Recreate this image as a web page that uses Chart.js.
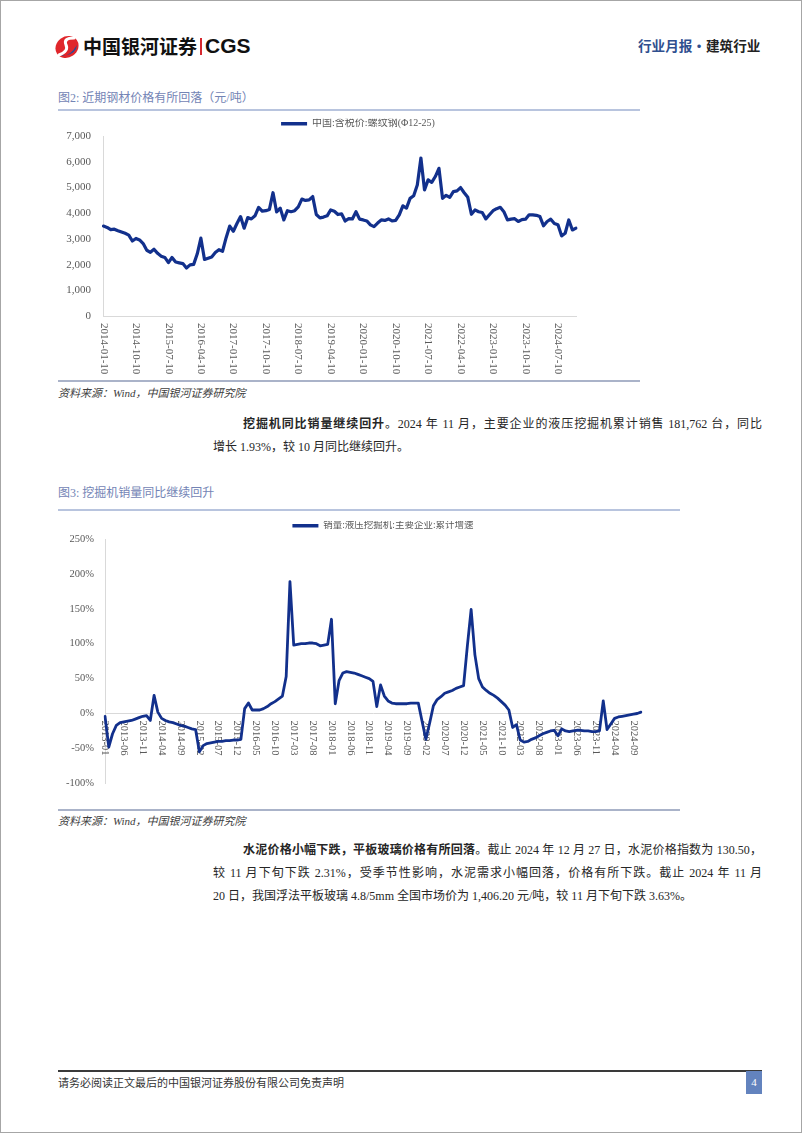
<!DOCTYPE html>
<html>
<head>
<meta charset="utf-8">
<script src="https://cdn.jsdelivr.net/npm/chart.js@4.4.1/dist/chart.umd.min.js"></script>
<style>
html,body{margin:0;padding:0;background:#fff;}
#page{position:relative;width:802px;height:1133px;overflow:hidden;font-family:"Liberation Serif","Noto Sans CJK SC",serif;color:#262626;}
#frame{position:absolute;left:0;top:0;width:802px;height:1133px;box-sizing:border-box;border:1px solid #a6a6a6;pointer-events:none;}
.t{position:absolute;white-space:nowrap;}
.hl{position:absolute;}
.body{font-size:12px;height:20px;line-height:20px;color:#262626;}
.just{text-align:justify;text-align-last:justify;}
.figt{font-size:12px;color:#7384b5;height:18px;line-height:18px;}
.src{font-size:11px;font-style:italic;color:#404040;height:16px;line-height:16px;}
canvas{position:absolute;}
</style>
</head>
<body>
<div id="page">
  <!-- header -->
  <svg class="hl" style="left:54px;top:35px" width="26" height="24" viewBox="0 0 26 24">
    <ellipse cx="13" cy="12" rx="12" ry="10.5" fill="#e0262b" transform="rotate(-35 13 12)"/>
    <path d="M3 19 Q14 25 23 10 Q22 18 13 20 Q8 21 3 19 Z" fill="#1f4e9c"/>
    <path d="M20 3 Q9 3 12 10 Q15 16 5 20" stroke="#fff" stroke-width="3" fill="none" stroke-linecap="round"/>
  </svg>
  <div class="t" style="left:83px;top:34px;height:24px;line-height:24px;font-family:'Noto Sans CJK SC';font-weight:700;font-size:19px;color:#111;">中国银河证券</div>
  <div class="hl" style="left:200px;top:38px;width:1.5px;height:17px;background:#d7282f;"></div>
  <div class="t" style="left:205px;top:34px;height:24px;line-height:24px;font-family:'Liberation Sans';font-weight:700;font-size:21px;color:#111;">CGS</div>
  <div class="t" style="left:638px;top:35px;height:20px;line-height:20px;font-family:'Noto Sans CJK SC';font-weight:600;font-size:13.6px;"><span style="color:#2f4f8f">行业月报·</span><span style="color:#222">建筑行业</span></div>

  <!-- figure 2 -->
  <div class="t figt" style="left:58px;top:89px;">图2:&nbsp;近期钢材价格有所回落（元/吨）</div>
  <div class="hl" style="left:58px;top:109px;width:582px;height:1.5px;background:#b8c4de;"></div>
  <canvas id="c1" width="582" height="268" style="left:58px;top:112px;"></canvas>
  <div class="hl" style="left:58px;top:380px;width:582px;height:2px;background:#aab3c9;"></div>
  <div class="t src" style="left:58px;top:385px;">资料来源：Wind，中国银河证券研究院</div>

  <!-- paragraph 1 -->
  <div class="t body just" style="left:243px;top:414px;width:519px;"><b>挖掘机同比销量继续回升</b>。2024 年 11 月，主要企业的液压挖掘机累计销售 181,762 台，同比</div>
  <div class="t body" style="left:213px;top:437px;">增长 1.93%，较 10 月同比继续回升。</div>

  <!-- figure 3 -->
  <div class="t figt" style="left:58px;top:484px;">图3:&nbsp;挖掘机销量同比继续回升</div>
  <div class="hl" style="left:58px;top:509px;width:622px;height:1.5px;background:#b8c4de;"></div>
  <canvas id="c2" width="622" height="296" style="left:58px;top:512px;"></canvas>
  <div class="hl" style="left:58px;top:809px;width:622px;height:2px;background:#aab3c9;"></div>
  <div class="t src" style="left:58px;top:813px;">资料来源：Wind，中国银河证券研究院</div>

  <!-- paragraph 2 -->
  <div class="t body just" style="left:243px;top:840px;width:519px;"><b>水泥价格小幅下跌，平板玻璃价格有所回落</b>。截止 2024 年 12 月 27 日，水泥价格指数为 130.50，</div>
  <div class="t body just" style="left:213px;top:863px;width:549px;">较 11 月下旬下跌 2.31%，受季节性影响，水泥需求小幅回落，价格有所下跌。截止 2024 年 11 月</div>
  <div class="t body" style="left:213px;top:886px;">20 日，我国浮法平板玻璃 4.8/5mm 全国市场价为 1,406.20 元/吨，较 11 月下旬下跌 3.63%。</div>

  <!-- footer -->
  <div class="hl" style="left:58px;top:1070px;width:704px;height:1.5px;background:#3a3a3a;"></div>
  <div class="t" style="left:58px;top:1075px;height:16px;line-height:16px;font-size:11px;color:#333;">请务必阅读正文最后的中国银河证券股份有限公司免责声明</div>
  <div class="hl" style="left:746px;top:1071px;width:16px;height:23px;background:#6383be;color:#fff;font-size:11px;line-height:23px;text-align:center;">4</div>
  <div id="frame"></div>
</div>

<script>
// ---------- data ----------
function monthLabels(startYear, startMonth, count, suffix) {
  const out = [];
  let y = startYear, m = startMonth;
  for (let i = 0; i < count; i++) {
    out.push(y + '-' + String(m).padStart(2, '0') + suffix);
    m++; if (m > 12) { m = 1; y++; }
  }
  return out;
}

// Figure 2: rebar price (yuan/ton), monthly 2014-01 .. 2024-12
const steelMonths = monthLabels(2014, 1, 132, '-10');
const steelTickLabels = ['2014-01-10','2014-10-10','2015-07-10','2016-04-10','2017-01-10','2017-10-10','2018-07-10','2019-04-10','2020-01-10','2020-10-10','2021-07-10','2022-04-10','2023-01-10','2023-10-10','2024-07-10'];
const steelSeriesName = '中国:含税价:螺纹钢(Φ12-25)';
const steelPrice = [
  3500,3450,3360,3380,3320,3270,3220,3150,2920,3020,2960,2820,
  2560,2480,2600,2440,2330,2280,2080,2280,2100,2070,2040,1870,
  1990,2010,2420,3030,2200,2250,2300,2470,2580,2520,3050,3500,
  3300,3600,3870,3420,3830,3780,3900,4230,4080,4100,4150,4800,
  4050,4200,3740,4100,4060,4100,4250,4550,4500,4520,4650,3950,
  3820,3850,3900,4130,4080,3950,3980,3700,3790,3780,4060,3770,
  3740,3700,3550,3480,3620,3740,3720,3780,3700,3720,3940,4290,
  4200,4580,4680,5100,6150,4910,5300,5200,5430,5750,4580,4700,
  4620,4840,4870,5000,4800,4620,3960,4130,4060,4030,3780,3940,
  4100,4180,4230,4060,3740,3770,3790,3680,3750,3770,3940,3940,
  3920,3870,3510,3680,3770,3600,3550,3120,3220,3740,3350,3420
];
const steelTicksY = [0,1000,2000,3000,4000,5000,6000,7000];

// Figure 3: excavator sales cumulative YoY (%), monthly 2013-01 .. 2024-11
const excavatorMonths = monthLabels(2013, 1, 143, '');
const excavatorTickLabels = ['2013-01','2013-06','2013-11','2014-04','2014-09','2015-02','2015-07','2015-12','2016-05','2016-10','2017-03','2017-08','2018-01','2018-06','2018-11','2019-04','2019-09','2020-02','2020-07','2020-12','2021-05','2021-10','2022-03','2022-08','2023-01','2023-06','2023-11','2024-04','2024-09'];
const excavatorSeriesName = '销量:液压挖掘机:主要企业:累计增速';
const excavatorGrowth = [
  -4,-48,-29,-17,-13,-12,-11,-10,-8,-6,-4,-3,
  -10,26,2,-7,-10,-12,-13,-15,-17,-18,-20,-22,
  -23,-55,-46,-43,-42,-41,-40,-40,-39,-39,-38,-38,
  -37,7,15,5,5,5,7,10,14,17,21,25,
  53,189,98,99,100,100,101,101,100,97,98,99,
  135,14,47,58,60,59,58,56,54,52,50,46,
  10,41,25,18,15,14,14,14,14,15,15,15,
  -11,-37,-14,11,20,24,29,31,33,36,38,40,
  97,149,84,50,38,33,29,26,22,17,12,5,
  -20,-16,-38,-41,-40,-37,-35,-32,-29,-27,-25,-24,
  -32,-22,-25,-26,-25,-24,-24,-25,-25,-26,-26,-25,
  18,-23,-15,-7,-5,-4,-3,-2,-1,0,1.93
];
const excavatorTicksY = [-100,-50,0,50,100,150,200,250];

// ---------- styling ----------
const LINE = '#12308c';
const FONT = '"Liberation Serif", "Noto Sans CJK SC", serif';
const GRAY = '#595959';
const AXIS = '#d9d9d9';

const rotatedXLabels = {
  id: 'rotatedXLabels',
  beforeDatasetsDraw(chart, args, opts) {
    const xs = chart.scales.x, ys = chart.scales.y;
    const base = opts.atZero ? ys.getPixelForValue(0) : chart.chartArea.bottom;
    const ctx = chart.ctx;
    ctx.save();
    ctx.font = opts.font;
    ctx.fillStyle = opts.color;
    ctx.textAlign = 'left';
    ctx.textBaseline = 'middle';
    for (const lbl of opts.labels) {
      const i = chart.data.labels.indexOf(lbl);
      if (i < 0) continue;
      const x = xs.getPixelForValue(i);
      ctx.save();
      ctx.translate(x, base + opts.offset);
      ctx.rotate(Math.PI / 2);
      ctx.fillText(lbl, 0, 0);
      ctx.restore();
    }
    ctx.restore();
  }
};
const legendShift = {
  id: 'legendShift',
  afterLayout(chart, args, opts) {
    const l = chart.legend;
    if (!l) return;
    l.left += opts.dx || 0; l.right += opts.dx || 0;
    l.top += opts.dy || 0; l.bottom += opts.dy || 0;
  }
};
function legendLabels(size) {
  return {
    boxWidth: 26, boxHeight: 3.5, padding: 0, color: GRAY,
    font: { family: FONT, size: size },
    generateLabels(chart) {
      const items = Chart.defaults.plugins.legend.labels.generateLabels(chart);
      items.forEach(it => { it.lineWidth = 0; it.fillStyle = LINE; });
      return items;
    }
  };
}

// ---------- chart 1 ----------
new Chart(document.getElementById('c1'), {
  type: 'line',
  data: {
    labels: steelMonths,
    datasets: [{
      label: steelSeriesName,
      data: steelPrice,
      borderColor: LINE, backgroundColor: LINE,
      borderWidth: 3.2, borderJoinStyle: 'round', borderCapStyle: 'round',
      pointRadius: 0, tension: 0, fill: false
    }]
  },
  options: {
    responsive: false, animation: false, devicePixelRatio: 1,
    layout: { padding: { top: 4.2, right: 64, bottom: 0, left: 0 } },
    plugins: {
      legend: { display: true, position: 'top', labels: legendLabels(10) },
      tooltip: { enabled: false },
      legendShift: { dx: 41, dy: 2.5 },
      rotatedXLabels: { labels: steelTickLabels, atZero: false, offset: 7, font: '11px ' + FONT, color: GRAY }
    },
    scales: {
      x: {
        type: 'category', offset: false,
        grid: { display: false, drawTicks: false },
        border: { display: true, color: AXIS, width: 1 },
        ticks: { display: false },
        afterFit(s) { s.height = 64; }
      },
      y: {
        min: 0, max: 7000,
        afterBuildTicks(s) { s.ticks = steelTicksY.map(v => ({ value: v })); },
        grid: { display: false, drawTicks: false },
        border: { display: true, color: AXIS, width: 1 },
        ticks: { color: GRAY, padding: 12.5, font: { family: FONT, size: 11 },
                 callback: v => v.toLocaleString('en-US') },
        afterFit(s) { s.width = 45.5; }
      }
    }
  },
  plugins: [rotatedXLabels, legendShift]
});

// ---------- chart 2 ----------
new Chart(document.getElementById('c2'), {
  type: 'line',
  data: {
    labels: excavatorMonths,
    datasets: [{
      label: excavatorSeriesName,
      data: excavatorGrowth,
      borderColor: LINE, backgroundColor: LINE,
      borderWidth: 2.8, borderJoinStyle: 'round', borderCapStyle: 'round',
      pointRadius: 0, tension: 0, fill: false
    }]
  },
  options: {
    responsive: false, animation: false, devicePixelRatio: 1,
    layout: { padding: { top: 7.5, right: 39, bottom: 0, left: 0 } },
    plugins: {
      legend: { display: true, position: 'top', labels: legendLabels(9.5) },
      tooltip: { enabled: false },
      legendShift: { dx: 33.5, dy: 1.5 },
      rotatedXLabels: { labels: excavatorTickLabels, atZero: true, offset: 7, font: '10.5px ' + FONT, color: GRAY }
    },
    scales: {
      x: {
        type: 'category', offset: false,
        grid: { display: false, drawTicks: false },
        border: { display: false },
        ticks: { display: false },
        afterFit(s) { s.height = 24.7; }
      },
      y: {
        min: -100, max: 250,
        afterBuildTicks(s) { s.ticks = excavatorTicksY.map(v => ({ value: v })); },
        grid: { display: true, drawTicks: false, lineWidth: 1,
                color: c => (c.tick && c.tick.value === 0) ? AXIS : 'rgba(0,0,0,0)' },
        border: { display: true, color: AXIS, width: 1 },
        ticks: { color: GRAY, padding: 11, font: { family: FONT, size: 10.5 },
                 callback: v => v + '%' },
        afterFit(s) { s.width = 47; }
      }
    }
  },
  plugins: [rotatedXLabels, legendShift]
});
</script>
</body>
</html>
